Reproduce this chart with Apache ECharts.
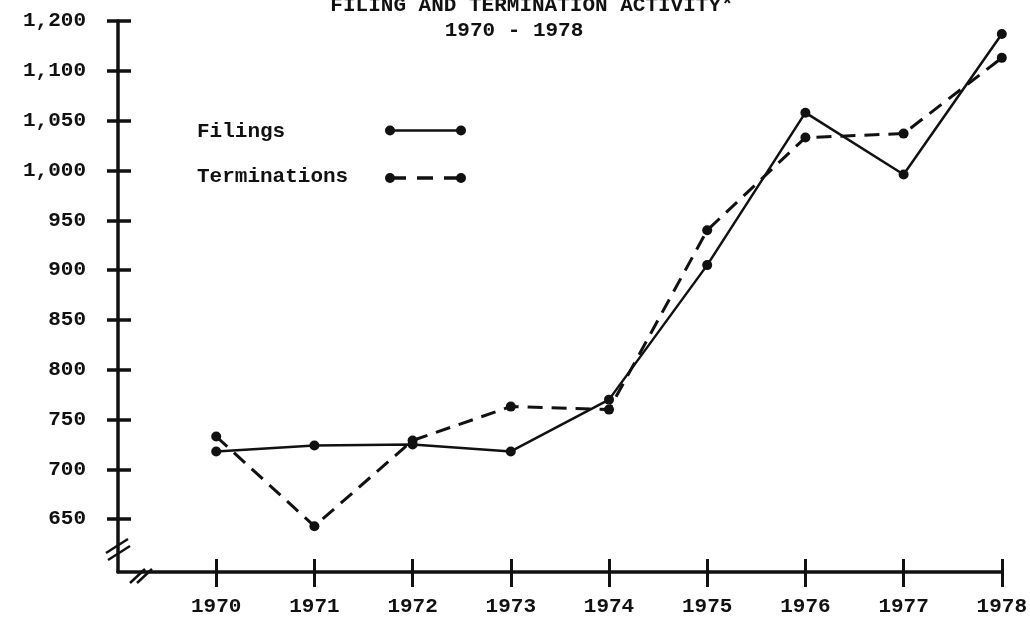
<!DOCTYPE html>
<html>
<head>
<meta charset="utf-8">
<script src="https://cdn.jsdelivr.net/npm/echarts@6/dist/echarts.min.js"></script>
<style>
  html, body { margin: 0; padding: 0; background: #fff; }
  #chart { width: 1030px; height: 623px; }
</style>
</head>
<body>
<div id="chart"></div>
<script>
"use strict";

// data
var years = [1970, 1971, 1972, 1973, 1974, 1975, 1976, 1977, 1978];
var filings = [718, 724, 725, 718, 770, 905, 1058, 996, 1137];
var terminations = [733, 643, 729, 763, 760, 940, 1033, 1037, 1113];

// the original prints "1,200" where the 1,150 mark sits
var yTickValues = [650, 700, 750, 800, 850, 900, 950, 1000, 1050, 1100, 1150];
var yTickLabels = ["650", "700", "750", "800", "850", "900", "950", "1,000", "1,050", "1,100", "1,200"];

var FONT = "Liberation Mono";
var INK = "#111";

function pairs(vals) {
    return years.map(function (y, i) { return [y, vals[i]]; });
}

function yLabel(v) {
    var i = yTickValues.indexOf(v);
    return i < 0 ? "" : yTickLabels[i];
}

var axisLineStyle = { color: INK, width: 3.5 };

function chart() {
    var e = {
        backgroundColor: "#fff",
        animation: false,
        title: [{
            text: "FILING AND TERMINATION ACTIVITY*",
            left: 527,
            textAlign: "center",
            top: -10,
            textStyle: { fontFamily: FONT, fontSize: 21, fontWeight: "bold", color: INK }
        }, {
            text: "1970 - 1978",
            left: 509,
            textAlign: "center",
            top: 15,
            textStyle: { fontFamily: FONT, fontSize: 21, fontWeight: "bold", color: INK }
        }],
        grid: {
            left: 118,
            right: 15,
            top: 21,
            bottom: 51
        },
        xAxis: [{
            type: "value",
            min: 1969,
            max: 1978,
            splitLine: { show: false },
            axisLine: { lineStyle: axisLineStyle },
            axisTick: {
                customValues: years,
                length: 15,
                lineStyle: { color: INK, width: 3 }
            },
            axisLabel: {
                customValues: years,
                formatter: function (v) { return String(v); },
                margin: 24,
                fontFamily: FONT,
                fontSize: 21,
                fontWeight: "bold",
                color: INK
            }
        }, {
            // second copy only for the upper half of the crossing ticks
            type: "value",
            position: "bottom",
            min: 1969,
            max: 1978,
            splitLine: { show: false },
            axisLine: { show: false },
            axisTick: {
                customValues: years,
                inside: true,
                length: 13,
                lineStyle: { color: INK, width: 3 }
            },
            axisLabel: { show: false }
        }],
        yAxis: [{
            type: "value",
            min: 597,
            max: 1150,
            splitLine: { show: false },
            axisLine: { show: true, lineStyle: axisLineStyle },
            axisTick: {
                show: true,
                customValues: yTickValues,
                length: 11,
                lineStyle: { color: INK, width: 3.5 }
            },
            axisLabel: {
                customValues: yTickValues,
                formatter: yLabel,
                margin: 32,
                fontFamily: FONT,
                fontSize: 21,
                fontWeight: "bold",
                color: INK
            }
        }, {
            type: "value",
            position: "left",
            min: 597,
            max: 1150,
            splitLine: { show: false },
            axisLine: { show: false },
            axisTick: {
                show: true,
                customValues: yTickValues,
                inside: true,
                length: 13,
                lineStyle: { color: INK, width: 3.5 }
            },
            axisLabel: { show: false }
        }],
        series: [{
            name: "Filings",
            type: "line",
            data: pairs(filings),
            symbol: "circle",
            symbolSize: 10,
            itemStyle: { color: INK },
            lineStyle: { color: INK, width: 2.5 },
            z: 3
        }, {
            name: "Terminations",
            type: "line",
            data: pairs(terminations),
            symbol: "circle",
            symbolSize: 10,
            itemStyle: { color: INK },
            lineStyle: { color: INK, width: 3, type: [15, 9] },
            z: 2
        }],
        graphic: [
            // legend, drawn the way the typed original lays it out
            { type: "text", left: 197, top: 121, style: { text: "Filings", font: "bold 21px " + FONT, fill: INK } },
            { type: "text", left: 197, top: 166, style: { text: "Terminations", font: "bold 21px " + FONT, fill: INK } },
            { type: "line", shape: { x1: 390, y1: 130.5, x2: 461, y2: 130.5 }, style: { stroke: INK, lineWidth: 2.5 } },
            { type: "circle", shape: { cx: 390, cy: 130.5, r: 5 }, style: { fill: INK } },
            { type: "circle", shape: { cx: 461, cy: 130.5, r: 5 }, style: { fill: INK } },
            { type: "line", shape: { x1: 390, y1: 178, x2: 461, y2: 178 }, style: { stroke: INK, lineWidth: 3.5, lineDash: [16, 11] } },
            { type: "circle", shape: { cx: 390, cy: 178, r: 5 }, style: { fill: INK } },
            { type: "circle", shape: { cx: 461, cy: 178, r: 5 }, style: { fill: INK } },
            // axis break marks
            { type: "line", shape: { x1: 106, y1: 553, x2: 128, y2: 539 }, style: { stroke: INK, lineWidth: 2.5 } },
            { type: "line", shape: { x1: 108, y1: 560, x2: 130, y2: 546 }, style: { stroke: INK, lineWidth: 2.5 } },
            { type: "line", shape: { x1: 130, y1: 583, x2: 145, y2: 569 }, style: { stroke: INK, lineWidth: 2.5 } },
            { type: "line", shape: { x1: 137, y1: 583, x2: 152, y2: 569 }, style: { stroke: INK, lineWidth: 2.5 } }
        ]
    };
    echarts.init(document.getElementById("chart")).setOption(e);
}

chart();
</script>
</body>
</html>
